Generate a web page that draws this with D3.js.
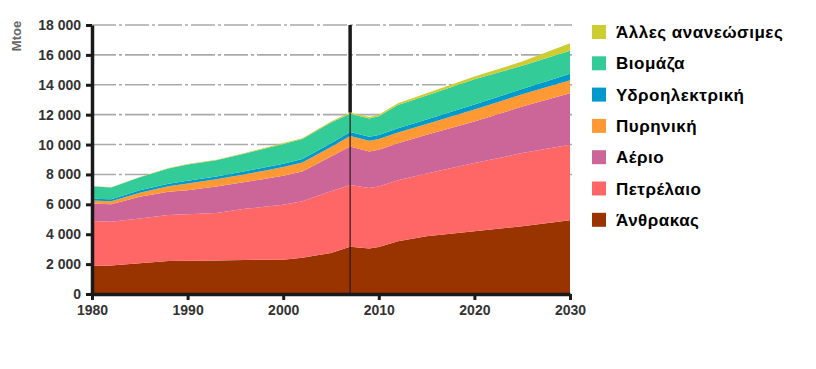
<!DOCTYPE html>
<html>
<head>
<meta charset="utf-8">
<script src="https://cdn.jsdelivr.net/npm/d3@7"></script>
<style>
  body { margin: 0; background: #fff; }
  svg { display: block; }
  .axis text { font-family: "Liberation Sans Narrow", "Arial Narrow", sans-serif; font-weight: bold; font-size: 14px; fill: #333; }
  .legend text { font-family: "Liberation Sans", Arial, sans-serif; font-weight: bold; font-size: 17px; letter-spacing: 0.5px; fill: #000; }
</style>
</head>
<body>
<div id="main"></div>
<script>
// years and values (Mtoe)
const years = [1980, 1982, 1985, 1988, 1990, 1993, 1996, 1998, 2000, 2002, 2005, 2007, 2009, 2010, 2012, 2015, 2020, 2025, 2030];
const coal = [1870, 1900, 2050, 2200, 2220, 2250, 2280, 2300, 2300, 2420, 2750, 3170, 3040, 3150, 3530, 3860, 4200, 4530, 4930];
const oil = [3010, 2940, 3010, 3080, 3110, 3170, 3420, 3530, 3680, 3780, 4120, 4130, 4050, 4050, 4080, 4200, 4560, 4900, 5060];
const gas = [1180, 1160, 1440, 1560, 1620, 1780, 1800, 1860, 1940, 2000, 2330, 2570, 2450, 2450, 2480, 2600, 2780, 3110, 3450];
const nuclear = [190, 200, 280, 370, 450, 480, 520, 560, 580, 600, 640, 700, 720, 720, 720, 720, 800, 820, 870];
const hydro = [130, 140, 160, 170, 180, 190, 200, 210, 220, 230, 250, 270, 260, 270, 280, 300, 340, 360, 420];
const biomass = [830, 790, 865, 1020, 1085, 1080, 1175, 1260, 1325, 1340, 1380, 1220, 1230, 1250, 1560, 1610, 1690, 1550, 1550];
const otherRenew = [20, 20, 25, 30, 35, 40, 45, 50, 55, 60, 70, 80, 90, 100, 120, 150, 180, 280, 500];

// series in stacking order (bottom to top)
const keys = ['coal', 'oil', 'gas', 'nuclear', 'hydro', 'biomass', 'other'];
const labels = ['Άνθρακας', 'Πετρέλαιο', 'Αέριο', 'Πυρηνική', 'Υδροηλεκτρική', 'Βιομάζα', 'Άλλες ανανεώσιμες'];
const colors = ['#993300', '#ff6666', '#cc6699', '#ff9933', '#0099cc', '#33cc99', '#cccc33'];
const yTicks = [0, 2000, 4000, 6000, 8000, 10000, 12000, 14000, 16000, 18000];
const gridTicks = [8000, 10000, 12000, 14000, 16000, 18000];
const xTicks = [1980, 1990, 2000, 2010, 2020, 2030];
const markYear = 2007;

function main() {
  const width = 816;
  const height = 369;

  const table = years.map((yr, i) => ({
    year: yr,
    coal: coal[i],
    oil: oil[i],
    gas: gas[i],
    nuclear: nuclear[i],
    hydro: hydro[i],
    biomass: biomass[i],
    other: otherRenew[i]
  }));

  const xScale = d3.scaleLinear().domain([1980, 2030]).range([92, 570]);
  const yScale = d3.scaleLinear().domain([0, 18000]).range([294, 25]);

  const svg = d3.select('#main')
    .append('svg')
    .attr('width', width)
    .attr('height', height);

  // dashed grid lines (behind areas)
  svg.append('g')
    .selectAll('line')
    .data(gridTicks)
    .enter()
    .append('line')
    .attr('x1', xScale(1980))
    .attr('x2', xScale(2030) + 2)
    .attr('y1', d => yScale(d))
    .attr('y2', d => yScale(d))
    .style('stroke', '#aaa')
    .style('stroke-width', 1.6)
    .style('stroke-dasharray', '24,3,3,3');

  // stacked areas
  const series = d3.stack().keys(keys)(table);
  const area = d3.area()
    .x(d => xScale(d.data.year))
    .y0(d => yScale(d[0]))
    .y1(d => yScale(d[1]));

  svg.append('g')
    .selectAll('path')
    .data(series)
    .enter()
    .append('path')
    .attr('d', area)
    .style('fill', (d, i) => colors[i]);

  // axes
  const fmt = d3.formatLocale({ decimal: '.', thousands: ' ', grouping: [3], currency: ['', ''] }).format(',');

  const yAxis = d3.axisLeft(yScale)
    .tickValues(yTicks)
    .tickFormat(fmt)
    .tickSizeInner(6)
    .tickSizeOuter(0)
    .tickPadding(5);

  const xAxis = d3.axisBottom(xScale)
    .tickValues(xTicks)
    .tickFormat(d3.format('d'))
    .tickSizeInner(6)
    .tickSizeOuter(0)
    .tickPadding(5);

  const gy = svg.append('g')
    .attr('transform', `translate(${xScale(1980)}, 0)`)
    .classed('axis', true)
    .call(yAxis);

  const gx = svg.append('g')
    .attr('transform', `translate(0, ${yScale(0)})`)
    .classed('axis', true)
    .call(xAxis);

  [gy, gx].forEach(g => {
    g.select('.domain').style('stroke', '#1a1a1a').style('stroke-width', 3.5);
    g.selectAll('.tick line').style('stroke', '#1a1a1a').style('stroke-width', 3);
  });

  // unit label
  svg.append('text')
    .attr('transform', 'translate(21, 36) rotate(-90)')
    .style('font-family', '"Liberation Sans Narrow", "Arial Narrow", sans-serif')
    .style('font-weight', 'bold')
    .style('font-size', '13px')
    .style('fill', '#666')
    .style('text-anchor', 'middle')
    .text('Mtoe');

  // 2007 marker line: thick above the areas, thin through them
  const idx = years.indexOf(markYear);
  const topVal = d3.sum(keys, k => table[idx][k]);
  svg.append('line')
    .attr('x1', xScale(markYear))
    .attr('x2', xScale(markYear))
    .attr('y1', yScale(18000))
    .attr('y2', yScale(topVal))
    .style('stroke', '#1a1a1a')
    .style('stroke-width', 3.5);
  svg.append('line')
    .attr('x1', xScale(markYear))
    .attr('x2', xScale(markYear))
    .attr('y1', yScale(topVal))
    .attr('y2', yScale(0))
    .style('stroke', '#2a1a1a')
    .style('stroke-width', 1.2);

  // legend, top entry is the top series
  const legend = svg.append('g')
    .classed('legend', true)
    .attr('transform', 'translate(592, 32)');

  const rows = legend.selectAll('g')
    .data(keys.map((k, i) => i).reverse())
    .enter()
    .append('g')
    .attr('transform', (d, j) => `translate(0, ${j * 31.3})`);

  rows.append('rect')
    .attr('x', 0)
    .attr('y', -7)
    .attr('width', 14)
    .attr('height', 14)
    .style('fill', d => colors[d]);

  rows.append('text')
    .attr('x', 24)
    .attr('y', 6)
    .text(d => labels[d]);
}

main();
</script>
</body>
</html>
